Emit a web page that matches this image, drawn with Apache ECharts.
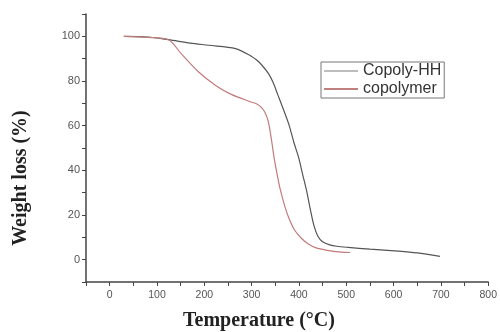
<!DOCTYPE html>
<html>
<head>
<meta charset="utf-8">
<script src="https://cdn.jsdelivr.net/npm/echarts@6/dist/echarts.min.js"></script>
<style>
  html, body { margin: 0; padding: 0; background: #fff; }
  #tga { width: 500px; height: 332px; }
</style>
</head>
<body>
<div id="tga"></div>
<script>
  // TGA curves (temperature in °C, weight in %)
  var hhTemp = [30, 80, 124, 170, 209, 266, 300, 310, 320, 335, 345, 355, 365, 378, 390, 399, 408, 416, 424, 432, 440, 450, 465, 480, 504, 550, 610, 650, 698];
  var hhWeight = [100, 99.7, 98.5, 97, 96, 94.5, 91, 89.5, 87.5, 83.5, 79.5, 74, 68.5, 61, 52, 46, 38, 31, 22.5, 15, 10.5, 8, 6.6, 6, 5.5, 4.7, 3.8, 3, 1.5];
  var copoTemp = [30, 80, 124, 152, 188, 224, 257, 300, 310, 320, 328, 335, 341, 348, 355, 361, 370, 378, 390, 405, 420, 435, 460, 489, 508];
  var copoWeight = [100, 99.5, 98.5, 92, 84, 78, 74, 70.5, 69.8, 68.3, 66, 62, 55, 45, 37, 31, 24, 19, 13.5, 9.6, 7, 5.4, 4.2, 3.4, 3.2];
  var seriesNames = ['Copoly-HH', 'copolymer'];

  function pairs(xs, ys) {
    return xs.map(function (x, i) { return [x, ys[i]]; });
  }

  var myChart = echarts.init(document.getElementById('tga'));
  var axisColor = '#444';

  var option = {
    animation: false,
    grid: { left: 86, right: 10, top: 14, bottom: 50 },
    legend: {
      orient: 'vertical',
      left: 321,
      top: 62,
      borderColor: '#777',
      borderWidth: 1,
      padding: [1, 3, 1, 3],
      itemGap: 2,
      itemWidth: 34,
      itemHeight: 2,
      icon: 'rect',
      textStyle: { fontFamily: 'Liberation Sans', fontSize: 16, color: '#333' },
      data: [
        { name: seriesNames[0], itemStyle: { color: '#bdbdbd' } },
        { name: seriesNames[1], itemStyle: { color: '#c08080' } }
      ]
    },
    xAxis: {
      type: 'value',
      min: -50,
      max: 800,
      interval: 50,
      splitLine: { show: false },
      axisLine: { onZero: false, lineStyle: { color: axisColor, width: 1.5 } },
      axisTick: { length: 4, lineStyle: { color: axisColor } },
      axisLabel: {
        color: '#555',
        fontFamily: 'Liberation Sans',
        fontSize: 10.5,
        margin: 8,
        formatter: function (v) { return (v >= 0 && v % 100 === 0) ? String(v) : ''; }
      }
    },
    yAxis: {
      type: 'value',
      min: -10,
      max: 110,
      interval: 10,
      splitLine: { show: false },
      axisLine: { show: true, onZero: false, lineStyle: { color: axisColor, width: 1.5 } },
      axisTick: { show: true, length: 4, lineStyle: { color: axisColor } },
      axisLabel: {
        color: '#555',
        fontFamily: 'Liberation Sans',
        fontSize: 11,
        margin: 6,
        formatter: function (v) { return (v >= 0 && v <= 100 && v % 20 === 0) ? String(v) : ''; }
      }
    },
    graphic: [
      {
        type: 'text',
        x: 21,
        y: 178,
        rotation: Math.PI / 2,
        style: {
          text: 'Weight loss (%)',
          font: 'bold 20px "Liberation Serif"',
          fill: '#222',
          align: 'center',
          verticalAlign: 'middle'
        }
      },
      {
        type: 'text',
        x: 259,
        y: 321,
        style: {
          text: 'Temperature (°C)',
          font: 'bold 20px "Liberation Serif"',
          fill: '#222',
          align: 'center',
          verticalAlign: 'middle'
        }
      }
    ],
    series: [
      {
        name: seriesNames[0],
        type: 'line',
        smooth: 0.3,
        showSymbol: false,
        lineStyle: { color: '#555', width: 1.2 },
        itemStyle: { color: '#555' },
        data: pairs(hhTemp, hhWeight)
      },
      {
        name: seriesNames[1],
        type: 'line',
        smooth: 0.3,
        showSymbol: false,
        lineStyle: { color: '#c27b7b', width: 1.2 },
        itemStyle: { color: '#c27b7b' },
        data: pairs(copoTemp, copoWeight)
      }
    ]
  };

  myChart.setOption(option);
</script>
</body>
</html>
